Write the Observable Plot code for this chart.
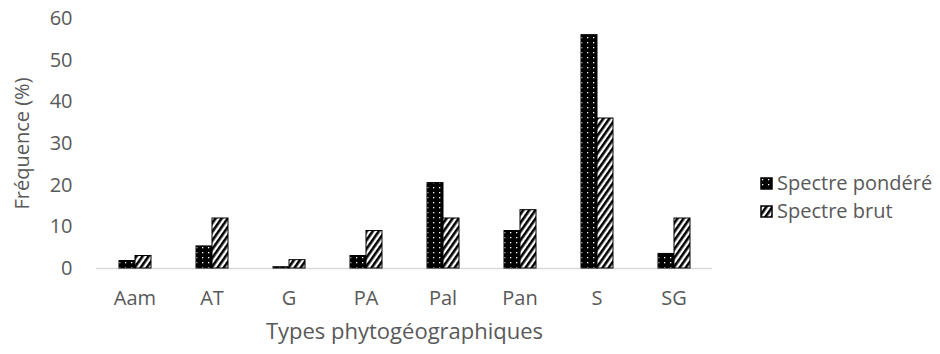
<!DOCTYPE html>
<html>
<head>
<meta charset="utf-8">
<script src="https://cdn.jsdelivr.net/npm/d3@7"></script>
<script src="https://cdn.jsdelivr.net/npm/@observablehq/plot@0.6"></script>
<style>
  body { margin: 0; background: #fff; font-family: "Open Sans", sans-serif; }
  #wrap { position: relative; width: 940px; height: 354px; }
  #legend { position: absolute; left: 760px; top: 169px; color: #595959; font-size: 20px; line-height: 28px; }
  #legend .item { display: flex; align-items: center; height: 28px; white-space: nowrap; }
  #legend svg { margin-right: 4px; }
</style>
</head>
<body>
<svg width="0" height="0" style="position:absolute">
  <defs>
    <pattern id="dots" patternUnits="userSpaceOnUse" width="6" height="5">
      <rect width="6" height="5" fill="#000"/>
      <rect x="2" y="2" width="1.3" height="1.3" fill="#fff"/>
    </pattern>
    <pattern id="hatch" patternUnits="userSpaceOnUse" width="5" height="5" patternTransform="rotate(35)">
      <rect width="5" height="5" fill="#fff"/>
      <rect x="0" y="0" width="2.6" height="5" fill="#000"/>
    </pattern>
  </defs>
</svg>
<div id="wrap">
  <div id="chart"></div>
  <div id="legend">
    <div class="item"><svg width="13" height="13"><rect x="1" y="1" width="11" height="11" fill="url(#dots)" stroke="#000" stroke-width="1.5"/></svg>Spectre pondéré</div>
    <div class="item"><svg width="13" height="13"><rect x="1" y="1" width="11" height="11" fill="url(#hatch)" stroke="#000" stroke-width="1.5"/></svg>Spectre brut</div>
  </div>
</div>
<script>
const categories = ["Aam", "AT", "G", "PA", "Pal", "Pan", "S", "SG"];
const series = ["Spectre pondéré", "Spectre brut"];
const pondere = [1.8, 5.3, 0.3, 3, 20.5, 9, 56, 3.5];
const brut = [3, 12, 2, 9, 12, 14, 36, 12];
const yTicks = [0, 10, 20, 30, 40, 50, 60];

const data = [];
categories.forEach((c, i) => {
  data.push({cat: c, series: series[0], value: pondere[i]});
  data.push({cat: c, series: series[1], value: brut[i]});
});

const chart = Plot.plot({
  width: 940,
  height: 354,
  marginLeft: 93,
  marginRight: 225,
  marginTop: 18,
  marginBottom: 86,
  style: {fontFamily: "Open Sans, sans-serif", color: "#595959", background: "#fff"},
  fx: {domain: categories, padding: 0},
  x: {domain: series, paddingInner: 0, paddingOuter: 1.36, axis: null},
  y: {domain: [0, 60], axis: null},
  marks: [
    Plot.axisFx({anchor: "bottom", tickSize: 0, tickPadding: 22, fontSize: 20, label: "Types phytogéographiques", labelAnchor: "center", labelArrow: false, labelOffset: 70}),
    Plot.axisY({ticks: yTicks, tickSize: 0, tickPadding: 24, fontSize: 20, label: "Fréquence (%)", labelAnchor: "center", labelArrow: false, labelOffset: 82}),
    Plot.ruleY([0], {stroke: "#d9d9d9", strokeWidth: 1.5}),
    Plot.barY(data.filter(d => d.series === series[0]), {fx: "cat", x: "series", y: "value", fill: "url(#dots)", stroke: "#000", strokeWidth: 1}),
    Plot.barY(data.filter(d => d.series === series[1]), {fx: "cat", x: "series", y: "value", fill: "url(#hatch)", stroke: "#000", strokeWidth: 1})
  ]
});
document.getElementById("chart").appendChild(chart);
d3.select(chart).selectAll('g[aria-label="fx-axis label"] text').attr("font-size", 22);
</script>
</body>
</html>
